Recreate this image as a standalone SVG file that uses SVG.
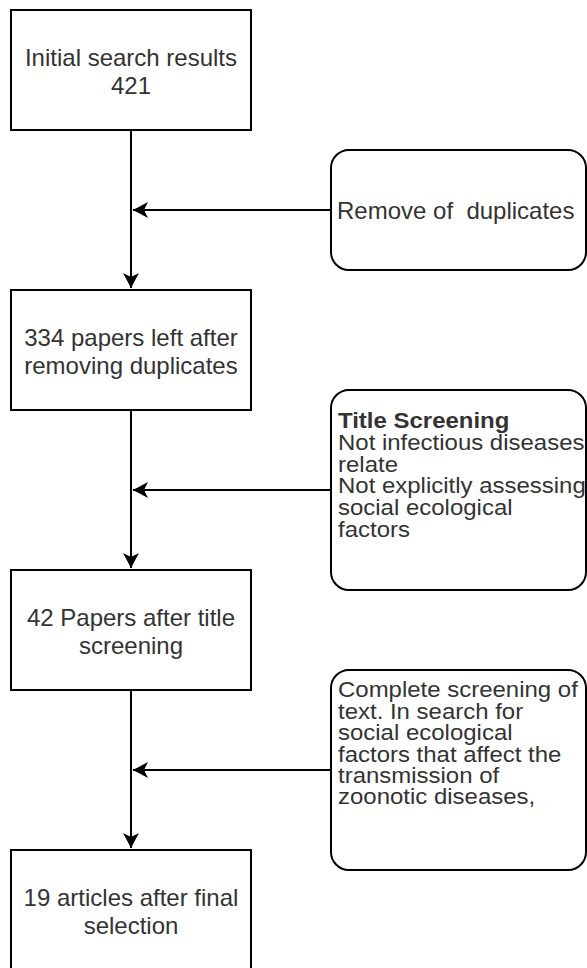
<svg xmlns="http://www.w3.org/2000/svg" width="587" height="968" viewBox="0 0 587 968">
<defs>
<style>
.box{fill:#fff;stroke:#000;stroke-width:2}
.t{font-family:"Liberation Sans",Arial,sans-serif;font-size:24px;fill:#333}
.s{font-size:22px}
.c{text-anchor:middle}
.b{font-weight:bold}
.edge{fill:none;stroke:#000;stroke-width:2}
</style>
<marker id="arr" viewBox="0 0 16 16" refX="15" refY="8" markerWidth="16" markerHeight="16" markerUnits="userSpaceOnUse" orient="auto">
<path d="M0,0 L15,8 L0,16 L4,8 Z" fill="#000"/>
</marker>
</defs>
<rect width="587" height="968" fill="#fff"/>
<g id="connectors">
<path class="edge" d="M131,130 L131,288" marker-end="url(#arr)"/>
<path class="edge" d="M131,410 L131,568" marker-end="url(#arr)"/>
<path class="edge" d="M131,690 L131,848" marker-end="url(#arr)"/>
<path class="edge" d="M331,210 L133,210" marker-end="url(#arr)"/>
<path class="edge" d="M331,490 L133,490" marker-end="url(#arr)"/>
<path class="edge" d="M331,770 L133,770" marker-end="url(#arr)"/>
</g>
<g id="n1">
<rect class="box" x="11" y="10" width="240" height="120"/>
<text class="t c" x="131" y="66">Initial search results</text><text class="t c" x="131" y="93.5">421</text>
</g>
<g id="n2">
<rect class="box" x="11" y="290" width="240" height="120"/>
<text class="t c" x="131" y="346">334 papers left after</text><text class="t c" x="131" y="373.5">removing duplicates</text>
</g>
<g id="n3">
<rect class="box" x="11" y="570" width="240" height="120"/>
<text class="t c" x="131" y="626">42 Papers after title</text><text class="t c" x="131" y="653.5">screening</text>
</g>
<g id="n4">
<rect class="box" x="11" y="850" width="240" height="120"/>
<text class="t c" x="131" y="906">19 articles after final</text><text class="t c" x="131" y="933.5">selection</text>
</g>
<g id="r1">
<rect class="box" x="331" y="150" width="255" height="120" rx="18"/>
<text class="t" x="337" y="219" xml:space="preserve">Remove of  duplicates</text>
</g>
<g id="r2">
<rect class="box" x="331" y="390" width="255" height="200" rx="18"/>
<g transform="translate(338,0) scale(1.09,1)">
<text class="t s b" x="0" y="428.3">Title Screening</text>
<text class="t s" x="0" y="450">Not infectious diseases</text>
<text class="t s" x="0" y="471.7">relate</text>
<text class="t s" x="0" y="493.3">Not explicitly assessing</text>
<text class="t s" x="0" y="515">social ecological</text>
<text class="t s" x="0" y="536.7">factors</text>
</g>
</g>
<g id="r3">
<rect class="box" x="331" y="670" width="255" height="200" rx="18"/>
<g transform="translate(338,0) scale(1.09,1)">
<text class="t s" x="0" y="697.3">Complete screening of</text>
<text class="t s" x="0" y="719">text. In search for</text>
<text class="t s" x="0" y="740.3">social ecological</text>
<text class="t s" x="0" y="761.7">factors that affect the</text>
<text class="t s" x="0" y="783">transmission of</text>
<text class="t s" x="0" y="804.3">zoonotic diseases,</text>
</g>
</g>
</svg>
